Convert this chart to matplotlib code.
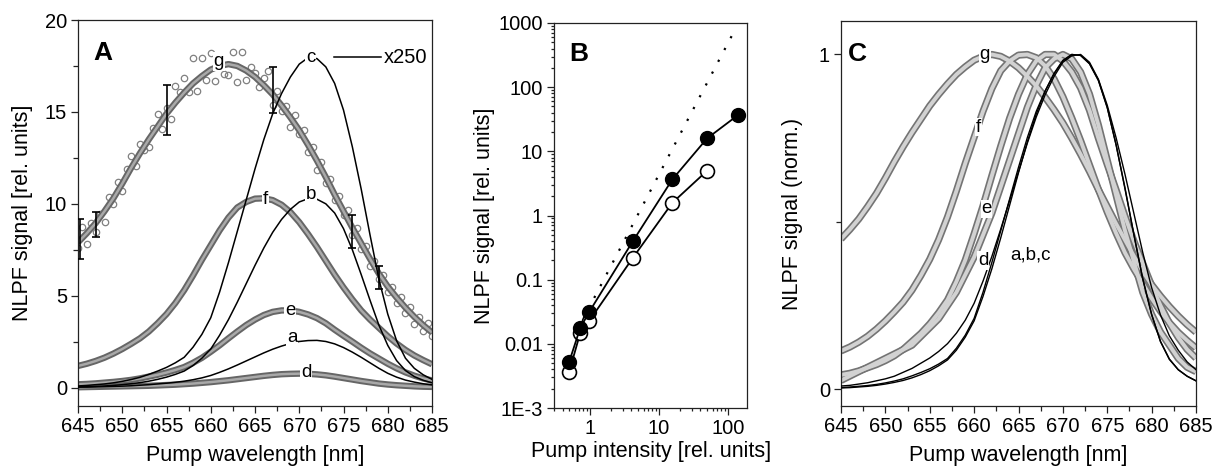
import numpy as np
import matplotlib
matplotlib.use("Agg")
import matplotlib.pyplot as plt
from matplotlib.ticker import MultipleLocator, FixedLocator, LogLocator, NullFormatter, FixedFormatter

plt.rcParams['font.family'] = ['Liberation Sans', 'DejaVu Sans']

# ---------------- data ----------------
wl = np.arange(645, 686)  # pump wavelength grid [nm]

curve_a = [0.025, 0.03, 0.04, 0.05, 0.065, 0.08, 0.1, 0.13, 0.16, 0.2, 0.24, 0.29, 0.35, 0.43, 0.53,
           0.66, 0.83, 1.02, 1.23, 1.45, 1.67, 1.89, 2.09, 2.26, 2.4, 2.51, 2.56, 2.57, 2.51, 2.38,
           2.18, 1.93, 1.65, 1.35, 1.05, 0.78, 0.57, 0.41, 0.3, 0.21, 0.15]
curve_b = [0.04, 0.05, 0.07, 0.09, 0.12, 0.16, 0.21, 0.27, 0.35, 0.45, 0.57, 0.72, 0.9, 1.2, 1.6,
           2.1, 2.85, 3.7, 4.65, 5.65, 6.65, 7.6, 8.45, 9.15, 9.7, 10.1, 10.28, 10.25, 10.0, 9.5,
           8.65, 7.5, 6.15, 4.75, 3.4, 2.3, 1.47, 0.93, 0.6, 0.4, 0.26]
curve_c = [0.09, 0.12, 0.16, 0.2, 0.26, 0.34, 0.44, 0.56, 0.72, 0.9, 1.1, 1.35, 1.65, 2.2, 2.9,
           3.8, 5.2, 6.8, 8.5, 10.2, 11.9, 13.5, 14.9, 16.0, 16.9, 17.6, 17.95, 17.9, 17.45, 16.55,
           15.1, 13.1, 10.8, 8.3, 5.9, 4.0, 2.55, 1.6, 1.05, 0.7, 0.45]
curve_d = [0.02, 0.03, 0.04, 0.05, 0.06, 0.07, 0.08, 0.09, 0.1, 0.12, 0.14, 0.16, 0.19, 0.22, 0.26,
           0.3, 0.35, 0.4, 0.46, 0.52, 0.58, 0.64, 0.69, 0.73, 0.75, 0.76, 0.75, 0.72, 0.67, 0.6,
           0.52, 0.44, 0.36, 0.29, 0.22, 0.17, 0.13, 0.1, 0.07, 0.05, 0.04]
curve_e = [0.18, 0.2, 0.23, 0.27, 0.31, 0.36, 0.42, 0.5, 0.6, 0.7, 0.82, 0.96, 1.12, 1.35, 1.62,
           1.95, 2.3, 2.68, 3.05, 3.4, 3.7, 3.95, 4.12, 4.2, 4.2, 4.12, 3.98, 3.78, 3.5, 3.15,
           2.82, 2.5, 2.17, 1.86, 1.58, 1.3, 1.05, 0.83, 0.65, 0.5, 0.39]
curve_f = [1.18, 1.3, 1.45, 1.63, 1.85, 2.1, 2.38, 2.68, 3.05, 3.5, 4.0, 4.6, 5.3, 6.1, 6.95,
           7.75, 8.55, 9.25, 9.8, 10.1, 10.28, 10.3, 10.2, 9.95, 9.55, 9.0, 8.35, 7.65, 6.9, 6.15,
           5.45, 4.8, 4.2, 3.7, 3.25, 2.8, 2.4, 2.05, 1.75, 1.5, 1.27]
curve_g = [7.9, 8.4, 8.95, 9.6, 10.3, 11.1, 11.95, 12.75, 13.5, 14.2, 14.9, 15.5, 16.05, 16.55, 16.95,
           17.3, 17.5, 17.6, 17.5, 17.25, 16.9, 16.45, 15.95, 15.35, 14.7, 14.0, 13.2, 12.35, 11.45, 10.5,
           9.6, 8.7, 7.85, 7.0, 6.2, 5.5, 4.9, 4.35, 3.85, 3.4, 3.0]

# measured g data points (open circles), 0.5 nm steps
g_meas_wl = np.arange(645, 685.01, 0.5)
g_meas = [7.6, 8.75, 7.8, 8.97, 8.45, 9.45, 9.0, 10.37, 10.0, 11.2, 10.7, 11.9, 12.6, 12.07, 13.25,
          12.92, 13.1, 14.15, 14.9, 14.05, 15.2, 14.6, 16.4, 16.07, 16.85, 16.1, 17.95, 16.15, 17.95, 16.72,
          18.2, 16.7, 17.8, 17.05, 17.0, 18.25, 16.6, 18.27, 16.75, 17.47, 17.1, 16.37, 16.85, 17.2, 15.35,
          16.15, 15.05, 15.32, 14.2, 14.85, 13.8, 14.0, 12.8, 13.07, 11.85, 12.3, 11.15, 11.37, 10.2, 10.45,
          9.4, 9.65, 8.3, 8.67, 7.55, 7.72, 6.6, 6.9, 5.9, 6.15, 5.2, 5.5, 4.6, 4.92, 4.05, 4.4,
          3.45, 3.82, 3.1, 3.5, 2.8]
err_wl = [645.2, 647.0, 655.0, 667.0, 676.0, 679.0]
err_val = [8.1, 8.9, 15.1, 16.2, 8.5, 6.0]
err_size = [1.1, 0.68, 1.36, 1.27, 0.9, 0.63]

# panel B
int_filled = [0.5, 0.72, 0.98, 4.2, 15.7, 50, 140]
sig_filled = [0.0053, 0.0176, 0.0318, 0.40, 3.66, 15.9, 36.6]
int_open = [0.5, 0.72, 0.98, 4.2, 15.7, 50]
sig_open = [0.0037, 0.0147, 0.023, 0.22, 1.58, 4.98]
quad_x = [1.15, 115]
quad_y = [0.052, 640]

TICK_FS = 14.5
LAB_FS = 15.5
LET_FS = 19
CL_FS = 13.5

fig = plt.figure(figsize=(12.15, 4.68), dpi=100)
axA = fig.add_axes([78/1215, 1-406/468, 354/1215, 386/468])
axB = fig.add_axes([554/1215, 1-408/468, 193/1215, 385/468])
axC = fig.add_axes([841/1215, 1-406/468, 355/1215, 385/468])

for ax in (axA, axB, axC):
    for s in ax.spines.values():
        s.set_linewidth(0.9)
        s.set_color('#222222')
    ax.tick_params(which='both', direction='out', top=False, right=False,
                   labelsize=TICK_FS, width=0.9, color='#222222', pad=3)
    ax.tick_params(which='major', length=5)
    ax.tick_params(which='minor', length=3.5)

bbox = dict(facecolor='white', edgecolor='none', pad=0.6)


def tube(ax, x, y, outer='#6a6a6a', inner='#c4c4c4', lw_o=4.6, lw_i=1.8, z=2):
    ax.plot(x, y, color=outer, lw=lw_o, solid_capstyle='butt', zorder=z)
    ax.plot(x, y, color=inner, lw=lw_i, solid_capstyle='butt', zorder=z + 0.1)


# ---------------- panel A ----------------
axA.plot(g_meas_wl, g_meas, 'o', ms=4.6, mfc='none', mec='#808080', mew=0.9, zorder=1.5)
for crv in (curve_d, curve_e, curve_f, curve_g):
    tube(axA, wl, crv, outer='#666666', inner='#a9a9a9')
for crv in (curve_a, curve_b, curve_c):
    axA.plot(wl, crv, color='black', lw=1.1, zorder=3)
axA.errorbar(err_wl, err_val, yerr=err_size, fmt='none', ecolor='black', elinewidth=1.2,
             capsize=3, capthick=1.2, zorder=4)
axA.plot([673.9, 679.2], [17.98, 17.98], color='black', lw=1.1)
axA.text(679.5, 17.98, 'x250', fontsize=TICK_FS, va='center', ha='left')
for lab, lx, ly in [('g', 660.9, 17.75), ('f', 666.2, 10.25), ('b', 671.3, 10.5),
                    ('c', 671.3, 17.98), ('e', 669.0, 4.2), ('a', 669.2, 2.7), ('d', 670.8, 0.8)]:
    axA.text(lx, ly, lab, fontsize=CL_FS, ha='center', va='center', bbox=bbox, zorder=6)
axA.text(647.8, 18.2, 'A', fontsize=LET_FS, fontweight='bold', ha='center', va='center')
axA.set_xlim(645, 685)
axA.set_ylim(-1, 20)
axA.xaxis.set_major_locator(MultipleLocator(5))
axA.xaxis.set_minor_locator(MultipleLocator(2.5))
axA.yaxis.set_major_locator(MultipleLocator(5))
axA.yaxis.set_minor_locator(MultipleLocator(2.5))
axA.set_xlabel('Pump wavelength [nm]', fontsize=LAB_FS)
axA.set_ylabel('NLPF signal [rel. units]', fontsize=LAB_FS)
axA.xaxis.set_label_coords(0.5, -0.102)
axA.yaxis.set_label_coords(-0.127, 0.5)

# ---------------- panel B ----------------
axB.set_xscale('log')
axB.set_yscale('log')
axB.plot(quad_x, quad_y, color='black', lw=1.6, linestyle=(0, (1, 5)), zorder=1)
axB.plot(int_open, sig_open, '-o', color='black', lw=1.3, ms=10, mfc='white', mec='black',
         mew=1.2, zorder=2)
axB.plot(int_filled, sig_filled, '-o', color='black', lw=1.3, ms=10, mfc='black', mec='black',
         zorder=3)
axB.set_xlim(0.3, 190)
axB.set_ylim(1e-3, 1000)
axB.xaxis.set_major_locator(FixedLocator([1, 10, 100]))
axB.xaxis.set_major_formatter(FixedFormatter(['1', '10', '100']))
axB.xaxis.set_minor_locator(LogLocator(base=10, subs=np.arange(2, 10), numticks=20))
axB.xaxis.set_minor_formatter(NullFormatter())
ydec = [1e-3, 1e-2, 1e-1, 1, 10, 100, 1000]
axB.yaxis.set_major_locator(FixedLocator(ydec))
axB.yaxis.set_major_formatter(FixedFormatter(['1E-3', '0.01', '0.1', '1', '10', '100', '1000']))
axB.yaxis.set_minor_locator(LogLocator(base=10, subs=np.arange(2, 10), numticks=20))
axB.yaxis.set_minor_formatter(NullFormatter())
axB.tick_params(which='minor', length=2.5)
axB.text(0.5, 330, 'B', fontsize=LET_FS, fontweight='bold', ha='left', va='center')
axB.set_xlabel('Pump intensity [rel. units]', fontsize=LAB_FS)
axB.set_ylabel('NLPF signal [rel. units]', fontsize=LAB_FS)
axB.xaxis.set_label_coords(0.503, -0.086)
axB.yaxis.set_label_coords(-0.306, 0.5)

# ---------------- panel C ----------------
for crv in (curve_g, curve_f, curve_e, curve_d):
    arr = np.asarray(crv)
    tube(axC, wl, arr / arr.max(), outer='#747474', inner='#d2d2d2', lw_o=5.2, lw_i=2.8)
for crv in (curve_a, curve_b, curve_c):
    arr = np.asarray(crv)
    axC.plot(wl, arr / arr.max(), color='black', lw=1.0, zorder=3)
for lab, lx, ly in [('g', 661.2, 1.0), ('f', 660.5, 0.783), ('e', 661.4, 0.539), ('d', 661.0, 0.385)]:
    axC.text(lx, ly, lab, fontsize=CL_FS, ha='center', va='center', bbox=bbox, zorder=6)
axC.text(666.4, 0.40, 'a,b,c', fontsize=CL_FS, ha='center', va='center', zorder=6)
axC.text(646.9, 1.0, 'C', fontsize=LET_FS, fontweight='bold', ha='center', va='center')
axC.set_xlim(645, 685)
axC.set_ylim(-0.05, 1.1)
axC.xaxis.set_major_locator(MultipleLocator(5))
axC.xaxis.set_minor_locator(MultipleLocator(2.5))
axC.yaxis.set_major_locator(FixedLocator([0, 1]))
axC.yaxis.set_minor_locator(FixedLocator([0.5]))
axC.set_xlabel('Pump wavelength [nm]', fontsize=LAB_FS)
axC.set_ylabel('NLPF signal (norm.)', fontsize=LAB_FS)
axC.xaxis.set_label_coords(0.5, -0.102)
axC.yaxis.set_label_coords(-0.107, 0.5)

fig.savefig('out.png', dpi=100)
